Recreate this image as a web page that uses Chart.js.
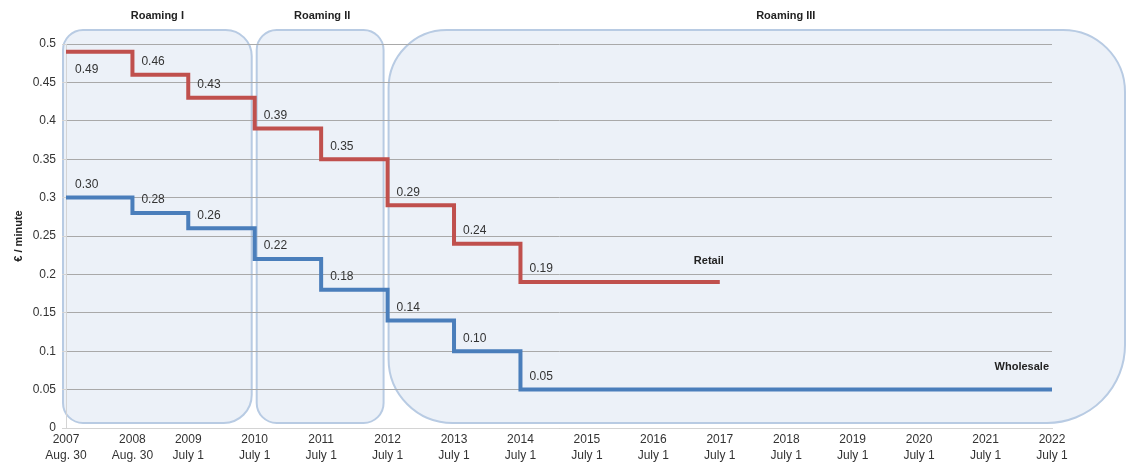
<!DOCTYPE html>
<html>
<head>
<meta charset="utf-8">
<script src="https://cdn.jsdelivr.net/npm/chart.js@4"></script>
<style>
  html, body { margin: 0; padding: 0; background: #fff; }
  #wrap { width: 1130px; height: 466px; }
</style>
</head>
<body>
<div id="wrap"><canvas id="roamingChart" width="1130" height="466"></canvas></div>
<script>
// dates as decimal years (Aug. 30 ~ .66, July 1 ~ .5)
const changeDates = [2007.66, 2008.66, 2009.5, 2010.5, 2011.5, 2012.5, 2013.5, 2014.5];
const retailCaps = [0.49, 0.46, 0.43, 0.39, 0.35, 0.29, 0.24, 0.19];
const wholesaleCaps = [0.30, 0.28, 0.26, 0.22, 0.18, 0.14, 0.10, 0.05];
const retailEnd = 2017.5;
const wholesaleEnd = 2022.5;

const tickDates = [2007.66, 2008.66, 2009.5, 2010.5, 2011.5, 2012.5, 2013.5, 2014.5,
  2015.5, 2016.5, 2017.5, 2018.5, 2019.5, 2020.5, 2021.5, 2022.5];
const tickLabels = [
  ['2007', 'Aug. 30'], ['2008', 'Aug. 30'], ['2009', 'July 1'], ['2010', 'July 1'],
  ['2011', 'July 1'], ['2012', 'July 1'], ['2013', 'July 1'], ['2014', 'July 1'],
  ['2015', 'July 1'], ['2016', 'July 1'], ['2017', 'July 1'], ['2018', 'July 1'],
  ['2019', 'July 1'], ['2020', 'July 1'], ['2021', 'July 1'], ['2022', 'July 1']
];

const periodNames = ['Roaming I', 'Roaming II', 'Roaming III'];
const periodStarts = [2007.66, 2010.5, 2012.5];
const periodEnds = [2010.5, 2012.5, 2022.5];

const FONT = "'Liberation Sans', Arial, sans-serif";

const toPoints = (dates, vals, endDate) => {
  const pts = dates.map((d, i) => ({ x: d, y: vals[i] }));
  pts.push({ x: endDate, y: vals[vals.length - 1] });
  return pts;
};

// rounded boxes behind the chart for each regulation period
const periodBoxes = {
  id: 'periodBoxes',
  beforeDraw(chart) {
    const { ctx, scales: { x, y } } = chart;
    const top = y.getPixelForValue(0.5) - 14;
    const bottom = y.getPixelForValue(0) - 5;
    const shapes = [
      { l: x.getPixelForValue(periodStarts[0]) - 3, r: x.getPixelForValue(periodEnds[0]) - 3, radii: [20, 26, 28, 20], shift: 0 },
      { l: x.getPixelForValue(periodStarts[1]) + 2, r: x.getPixelForValue(periodEnds[1]) - 4, radii: [20, 20, 20, 20], shift: 2 },
      { l: x.getPixelForValue(periodStarts[2]) + 1, r: chart.width - 5, radii: [58, 62, 78, 64], shift: 29 }
    ];
    ctx.save();
    shapes.forEach((s, i) => {
      ctx.beginPath();
      ctx.roundRect(s.l, top, s.r - s.l, bottom - top, s.radii);
      ctx.fillStyle = '#ecf1f8';
      ctx.fill();
      ctx.lineWidth = 2;
      ctx.strokeStyle = '#b8cbe3';
      ctx.stroke();
      ctx.fillStyle = '#222';
      ctx.font = 'bold 11px ' + FONT;
      ctx.textAlign = 'center';
      ctx.textBaseline = 'middle';
      ctx.fillText(periodNames[i], (s.l + s.r) / 2 + s.shift, 16);
    });
    ctx.restore();
  }
};

// value labels at each step and the series names
const stepLabels = {
  id: 'stepLabels',
  afterDatasetsDraw(chart) {
    const { ctx } = chart;
    ctx.save();
    ctx.font = '12px ' + FONT;
    ctx.fillStyle = '#333';
    ctx.textAlign = 'left';
    ctx.textBaseline = 'middle';
    chart.data.datasets.forEach((ds, di) => {
      const meta = chart.getDatasetMeta(di);
      meta.data.forEach((pt, i) => {
        if (i === meta.data.length - 1) return;
        const below = di === 0 && i === 0;
        ctx.fillText(ds.data[i].y.toFixed(2), pt.x + 9, below ? pt.y + 18 : pt.y - 13);
      });
    });
    ctx.font = 'bold 11px ' + FONT;
    ctx.fillStyle = '#222';
    const r = chart.getDatasetMeta(0).data;
    const last = r[r.length - 1];
    ctx.textAlign = 'right';
    ctx.fillText('Retail', last.x + 4, last.y - 21);
    const w = chart.getDatasetMeta(1).data;
    const wl = w[w.length - 1];
    ctx.fillText('Wholesale', wl.x - 3, wl.y - 23);
    ctx.restore();
  }
};

new Chart(document.getElementById('roamingChart'), {
  type: 'line',
  data: {
    datasets: [
      {
        label: 'Retail',
        data: toPoints(changeDates, retailCaps, retailEnd),
        borderColor: '#c0504d',
        borderWidth: 4,
        stepped: true,
        pointRadius: 0,
        fill: false
      },
      {
        label: 'Wholesale',
        data: toPoints(changeDates, wholesaleCaps, wholesaleEnd),
        borderColor: '#4a7ebb',
        borderWidth: 4,
        stepped: true,
        pointRadius: 0,
        fill: false
      }
    ]
  },
  options: {
    responsive: false,
    animation: false,
    layout: { padding: { top: 44, right: 78, left: 0, bottom: 0 } },
    plugins: { legend: { display: false }, tooltip: { enabled: false } },
    scales: {
      x: {
        type: 'linear',
        min: 2007.66,
        max: 2022.5,
        afterBuildTicks: (scale) => { scale.ticks = tickDates.map(v => ({ value: v })); },
        afterFit: (scale) => { scale.height = 38; },
        ticks: {
          autoSkip: false,
          maxRotation: 0,
          padding: 4,
          color: '#333',
          font: { family: FONT, size: 12, lineHeight: 1.3 },
          callback: (v, i) => tickLabels[i]
        },
        grid: { display: false, drawTicks: false },
        border: { color: '#d4d4d4', width: 1 }
      },
      y: {
        min: 0,
        max: 0.5,
        afterFit: (scale) => { scale.width = 66; },
        ticks: {
          stepSize: 0.05,
          padding: 6,
          color: '#333',
          font: { family: FONT, size: 12 },
          callback: (v) => String(Math.round(v * 100) / 100)
        },
        grid: { color: '#a9a9a9', lineWidth: 1, tickLength: 4, tickColor: '#d4d4d4' },
        border: { color: '#d4d4d4', width: 1 },
        title: {
          display: true,
          text: '€ / minute',
          color: '#222',
          font: { family: FONT, size: 11, weight: 'bold' },
          padding: { top: 12, bottom: 0 }
        }
      }
    }
  },
  plugins: [periodBoxes, stepLabels]
});
</script>
</body>
</html>
